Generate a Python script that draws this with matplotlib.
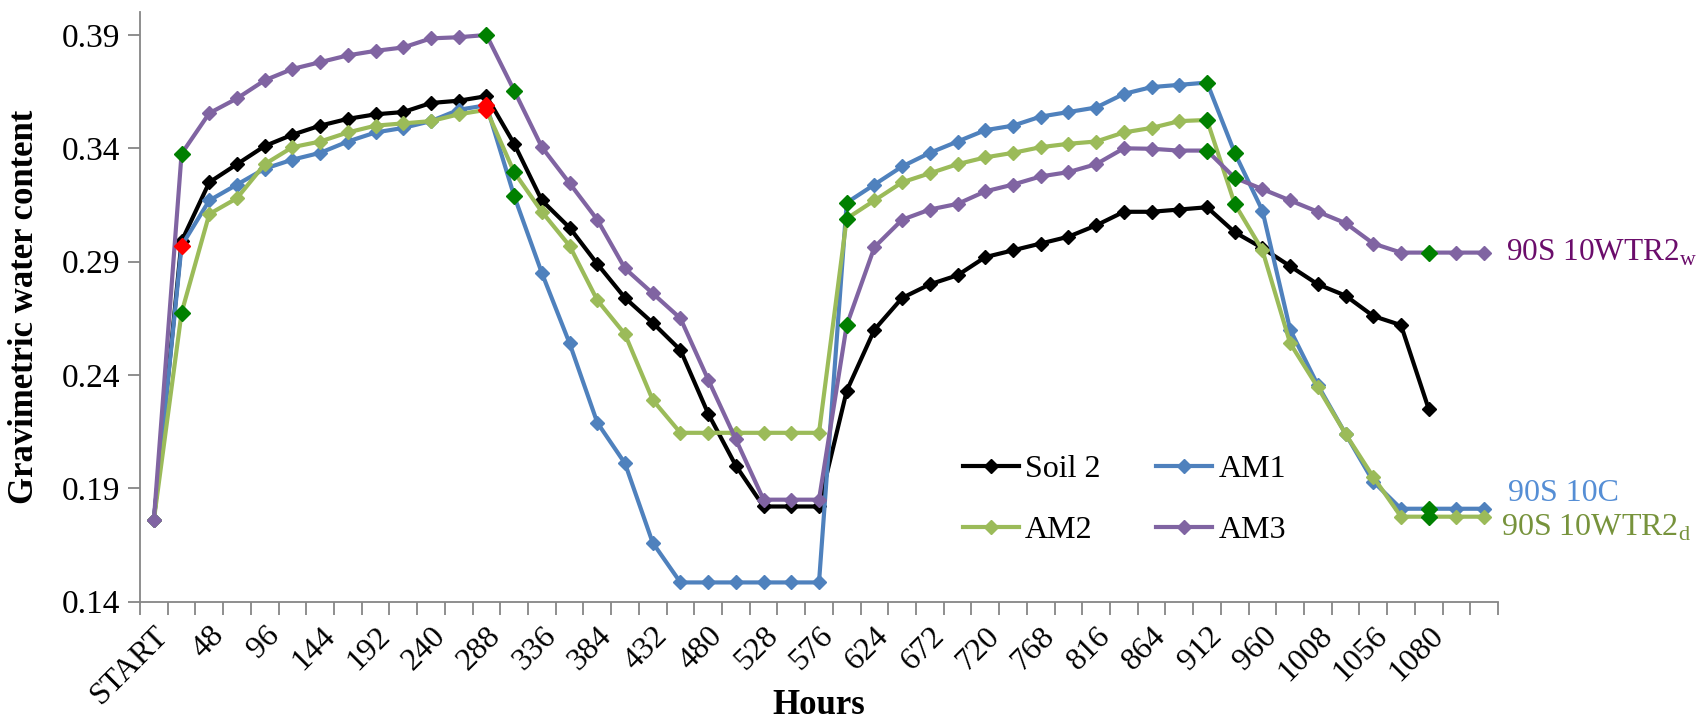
import matplotlib
matplotlib.use("Agg")
import matplotlib.pyplot as plt
import numpy as np

plt.rcParams['font.family'] = ['Liberation Serif', 'DejaVu Serif']
plt.rcParams['mathtext.fontset'] = 'custom'
plt.rcParams['mathtext.rm'] = 'Liberation Serif'

# category labels (every second category carries a label)
hour_labels = ["START", "48", "96", "144", "192", "240", "288", "336", "384",
               "432", "480", "528", "576", "624", "672", "720", "768", "816",
               "864", "912", "960", "1008", "1056", "1080"]
n_cat = 49

soil2 = [0.176, 0.299, 0.325, 0.333, 0.341, 0.346, 0.350, 0.353, 0.355, 0.356,
         0.360, 0.361, 0.363, 0.342, 0.317, 0.305, 0.289, 0.274, 0.263, 0.251,
         0.223, 0.200, 0.182, 0.182, 0.182, 0.233, 0.260, 0.274, 0.280, 0.284,
         0.292, 0.295, 0.298, 0.301, 0.306, 0.312, 0.312, 0.313, 0.314, 0.303,
         0.296, 0.288, 0.280, 0.275, 0.266, 0.262, 0.225]

am1 = [0.176, 0.297, 0.317, 0.324, 0.331, 0.335, 0.338, 0.343, 0.347, 0.349,
       0.352, 0.357, 0.359, 0.319, 0.285, 0.254, 0.219, 0.201, 0.166, 0.1485,
       0.1485, 0.1485, 0.1485, 0.1485, 0.1485, 0.316, 0.324, 0.332, 0.338, 0.343,
       0.348, 0.350, 0.354, 0.356, 0.358, 0.364, 0.367, 0.368, 0.369, 0.338,
       0.3125, 0.260, 0.2355, 0.214, 0.193, 0.181, 0.181, 0.181, 0.181]

am2 = [0.176, 0.2675, 0.311, 0.318, 0.333, 0.3405, 0.343, 0.347, 0.350, 0.351,
       0.352, 0.355, 0.357, 0.3295, 0.312, 0.297, 0.273, 0.258, 0.229, 0.2145,
       0.2145, 0.2145, 0.2145, 0.2145, 0.2145, 0.309, 0.317, 0.325, 0.329, 0.333,
       0.336, 0.338, 0.3405, 0.342, 0.343, 0.347, 0.349, 0.352, 0.3525, 0.3155,
       0.295, 0.254, 0.2345, 0.214, 0.195, 0.1775, 0.1775, 0.1775, 0.1775]

am3 = [0.176, 0.3376, 0.3555, 0.362, 0.370, 0.375, 0.378, 0.381, 0.383, 0.3845,
       0.3885, 0.389, 0.390, 0.3655, 0.3405, 0.3246, 0.3085, 0.287, 0.276, 0.265,
       0.238, 0.2116, 0.185, 0.185, 0.185, 0.262, 0.2964, 0.3085, 0.313, 0.3155,
       0.321, 0.324, 0.3276, 0.3295, 0.333, 0.340, 0.3398, 0.339, 0.339, 0.327,
       0.322, 0.317, 0.312, 0.307, 0.298, 0.294, 0.294, 0.294, 0.294]

# highlighted points (green / red markers)
green_pts = {"AM1": [13, 25, 38, 39, 46], "AM2": [1, 13, 25, 38, 39, 46],
             "AM3": [1, 12, 13, 25, 38, 39, 46]}
red_pts = {"AM1": [1, 12], "AM2": [12]}

series = [("Soil 2", soil2, "#000000"), ("AM1", am1, "#4F81BD"),
          ("AM2", am2, "#9BBB59"), ("AM3", am3, "#8064A2")]

W, H = 1707, 720
fig = plt.figure(figsize=(W / 100, H / 100), dpi=100)
ax = fig.add_axes([140 / W, 1 - 601.7 / H, 1358 / W, 589.4 / H])

handles = {}
for name, vals, col in series:
    x = np.arange(len(vals))
    ln, = ax.plot(x, vals, color=col, lw=3.0, marker='D', ms=7.5,
                  solid_joinstyle='miter', label=name, clip_on=False)
    handles[name] = ln

for name, vals, col in series:
    v = np.array(vals)
    gi = green_pts.get(name, [])
    ri = red_pts.get(name, [])
    if gi:
        ax.plot(gi, v[gi], ls='none', marker='D', ms=8, color='#008000', zorder=5, clip_on=False)
    if ri:
        ax.plot(ri, v[ri], ls='none', marker='D', ms=8.5, color='#FF0000', zorder=5, clip_on=False)

ax.set_xlim(-0.5, n_cat - 0.5)
ax.set_ylim(0.14, 0.40)
yt = np.arange(0.14, 0.391, 0.05)
ax.set_yticks(yt)
ax.set_yticklabels([f"{t:.2f}" for t in yt], fontsize=24)

ax.set_xticks(np.arange(0, 2 * len(hour_labels), 2))
ax.set_xticklabels(hour_labels, fontsize=23, rotation=45, ha='right', va='top',
                   rotation_mode='anchor')
ax.set_xticks(np.arange(-0.5, n_cat, 1), minor=True)
ax.tick_params(axis='x', which='major', length=0, pad=14)
ax.tick_params(axis='x', which='minor', length=9, width=1.3, color='#868686')
ax.tick_params(axis='y', length=9, width=1.3, color='#868686', pad=5)

for s in ['top', 'right']:
    ax.spines[s].set_visible(False)
for s in ['left', 'bottom']:
    ax.spines[s].set_color('#868686')
    ax.spines[s].set_linewidth(1.3)

ax.set_xlabel("Hours", fontsize=25, fontweight='bold', va='center')
ax.xaxis.set_label_coords(0.5, -0.176)
ax.set_ylabel("Gravimetric water content", fontsize=25, fontweight='bold', va='center')
ax.yaxis.set_label_coords(-0.085, 0.5)

ax.legend([handles["Soil 2"], handles["AM2"], handles["AM1"], handles["AM3"]],
          ["Soil 2", "AM2", "AM1", "AM3"], ncol=2, frameon=False, fontsize=23,
          loc='upper left', bbox_to_anchor=(0.594, 0.277), borderpad=0,
          handlelength=1.75, handletextpad=0.2, columnspacing=1.75, labelspacing=1.0)

ax.text(48.8, 0.2938, r"90S 10WTR2$_\mathregular{w}$", color="#6B0D6B", fontsize=22.5,
        va='center', ha='left', clip_on=False)
ax.text(48.85, 0.1879, "90S 10C", color="#558ED5", fontsize=23,
        va='center', ha='left', clip_on=False)
ax.text(48.6, 0.1725, r"90S 10WTR2$_\mathregular{d}$", color="#77933C", fontsize=23,
        va='center', ha='left', clip_on=False)

fig.savefig("out.png", dpi=100)
